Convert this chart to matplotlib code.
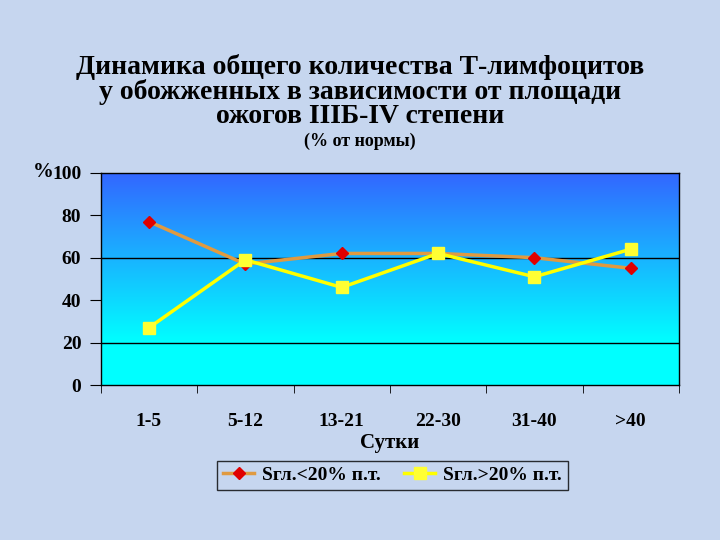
import numpy as np
import matplotlib.pyplot as plt
from matplotlib.colors import LinearSegmentedColormap

plt.rcParams['font.family'] = ['Liberation Serif', 'DejaVu Serif']
plt.rcParams['font.weight'] = 'bold'

categories = ['1-5', '5-12', '13-21', '22-30', '31-40', '>40']
small_burn = [77, 57, 62, 62, 60, 55]   # Sгл.<20% п.т.
large_burn = [27, 59, 46, 62, 51, 64]   # Sгл.>20% п.т.
y_ticks = [0, 20, 40, 60, 80, 100]

bg = '#c6d6ef'
fig = plt.figure(figsize=(7.2, 5.4), dpi=100, facecolor=bg)
ax = fig.add_axes([0.140, 0.287, 0.803, 0.393])

x = np.arange(len(categories))
ax.set_xlim(-0.5, len(categories) - 0.5)
ax.set_ylim(0, 100)

# gradient fill: blue at top to cyan near 20, flat cyan below
grad = np.clip(np.linspace(1, -0.25, 256), 0, 1).reshape(-1, 1)
cmap = LinearSegmentedColormap.from_list('bc', ['#00ffff', '#3366ff'])
ax.imshow(grad, aspect='auto', cmap=cmap, extent=[-0.5, len(categories) - 0.5, 0, 100],
          origin='upper', zorder=0)

for g in [20, 60]:
    ax.axhline(g, color='black', lw=1, zorder=1)

ax.plot(x, small_burn, color='#e09a40', lw=2.5, marker='D', ms=6,
        mfc='#e00000', mec='#e00000', zorder=3, label='Sгл.<20% п.т.')
ax.plot(x, large_burn, color='#ffff00', lw=2.5, marker='s', ms=8,
        mfc='#ffff33', mec='#ffff33', zorder=4, label='Sгл.>20% п.т.')

ax.set_xticks(x)
ax.set_xticklabels(categories, fontsize=14, fontweight='bold')
ax.set_xticks(np.arange(-0.5, len(categories)), minor=True)
ax.tick_params(axis='x', which='major', length=0, pad=20)
ax.tick_params(axis='x', which='minor', length=6, direction='out')
ax.set_yticks(y_ticks)
ax.set_yticklabels([str(v) for v in y_ticks], fontsize=14, fontweight='bold')
ax.tick_params(axis='y', length=8, direction='out', pad=6)
for s in ax.spines.values():
    s.set_color('black')
    s.set_linewidth(1)

ax.set_xlabel('Сутки', fontsize=15, fontweight='bold', labelpad=2)
fig.text(0.046, 0.682, '%', fontsize=15, fontweight='bold', ha='left', va='center')

fig.text(0.5, 0.876, 'Динамика общего количества Т-лимфоцитов', fontsize=20,
         fontweight='bold', ha='center', va='center')
fig.text(0.5, 0.830, 'у обожженных в зависимости от площади', fontsize=20,
         fontweight='bold', ha='center', va='center')
fig.text(0.5, 0.784, 'ожогов IIIБ-IV степени', fontsize=20,
         fontweight='bold', ha='center', va='center')
fig.text(0.5, 0.738, '(% от нормы)', fontsize=13,
         fontweight='bold', ha='center', va='center')

leg = fig.legend(loc='center', bbox_to_anchor=(0.545, 0.120), ncol=2, fontsize=14,
                 frameon=True, fancybox=False, edgecolor='black', facecolor=bg,
                 handlelength=1.6, handletextpad=0.4, columnspacing=1.2,
                 borderpad=0.3)
leg.get_frame().set_linewidth(1)

fig.savefig('out.png', dpi=100, facecolor=bg)
